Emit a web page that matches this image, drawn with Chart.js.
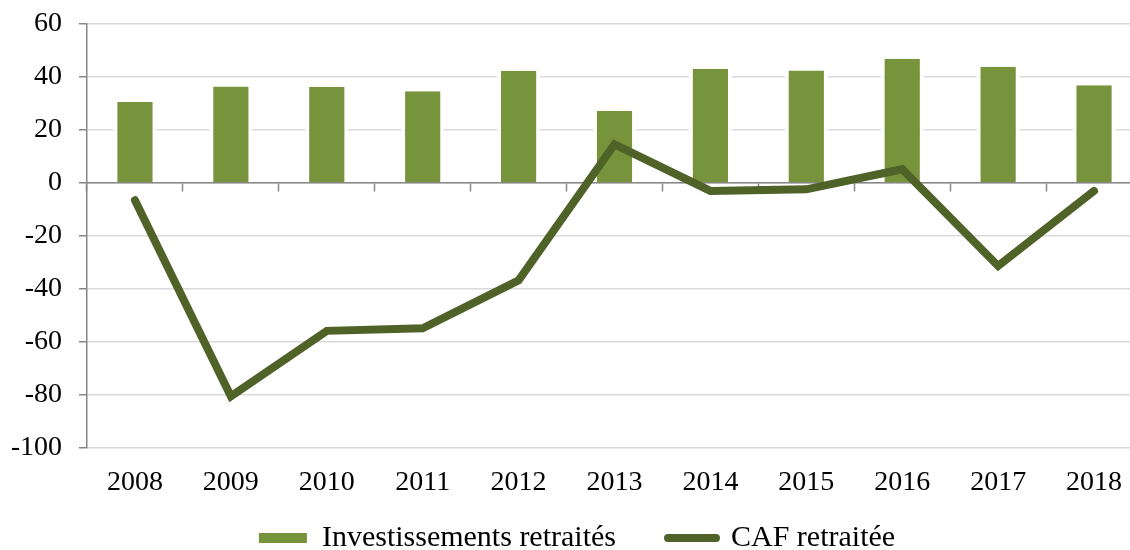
<!DOCTYPE html>
<html>
<head>
<meta charset="utf-8">
<script src="https://cdn.jsdelivr.net/npm/chart.js@4.4.1/dist/chart.umd.min.js"></script>
<style>
    html, body { margin: 0; padding: 0; background: #ffffff; overflow: hidden; }
    #wrap { position: relative; width: 1142px; height: 550px; }
</style>
</head>
<body>
<div id="wrap"><canvas id="myComboChart"></canvas></div>
<script>
// Data
const years = ['2008', '2009', '2010', '2011', '2012', '2013', '2014', '2015', '2016', '2017', '2018'];
const investissements = [30.6, 36.4, 36.2, 34.6, 42.4, 27.2, 43.1, 42.5, 46.9, 43.9, 36.9];
const cafRetraitee = [-6.5, -80.5, -55.8, -54.8, -36.7, 14.6, -3.0, -2.4, 5.2, -31.3, -3.0];
const seriesNames = ['Investissements retraités', 'CAF retraitée'];

document.addEventListener("DOMContentLoaded", function () {
    const ctx = document.getElementById('myComboChart').getContext('2d');
    const fontFamily = '"Liberation Serif", "Times New Roman", serif';
    const fontSize = 28;

    const axisGray = '#868686';
    const gridGray = '#d9d9d9';
    const legendGap = 52;     // space between the two legend entries
    const legendRowTop = 523; // y of the legend row

    // legend takes little room in the layout, then its row is moved to the bottom edge
    const legendPlacePlugin = {
        id: 'legendPlace',
        beforeLayout: function (chart) {
            const legend = chart.legend;
            if (legend && !legend._fitPatched) {
                const origFit = legend.fit;
                legend.fit = function () {
                    origFit.call(this);
                    this.height = 32;
                };
                legend._fitPatched = true;
            }
        },
        afterLayout: function (chart) {
            const legend = chart.legend;
            if (legend) {
                legend.top = legendRowTop - legendGap;
            }
        }
    };

    const data = {
        labels: years,
        datasets: [{
            type: 'bar',
            label: seriesNames[0],
            data: investissements,
            backgroundColor: '#77933c',
            borderColor: '#ffffff',
            borderWidth: { left: 4, right: 4, top: 0, bottom: 0 },
            borderSkipped: false,
            barPercentage: 0.45,
            categoryPercentage: 1.0,
            xAxisID: 'x',
            order: 1
        }, {
            type: 'line',
            label: seriesNames[1],
            data: cafRetraitee,
            borderColor: '#4f6228',
            backgroundColor: '#4f6228',
            borderWidth: 8,
            borderCapStyle: 'round',
            borderJoinStyle: 'miter',
            pointRadius: 0,
            pointHoverRadius: 0,
            tension: 0,
            fill: false,
            xAxisID: 'x',
            order: 0
        }]
    };

    const config = {
        data: data,
        plugins: [legendPlacePlugin],
        options: {
            responsive: true,
            maintainAspectRatio: false,
            animation: false,
            layout: {
                padding: { left: 12, top: 0, right: 0, bottom: 0 }
            },
            plugins: {
                tooltip: { enabled: false },
                legend: {
                    display: true,
                    position: 'bottom',
                    labels: {
                        color: '#000000',
                        font: { family: fontFamily, size: 30 },
                        usePointStyle: true,
                        pointStyleWidth: 48,
                        boxHeight: 10,
                        padding: legendGap,
                        sort: function (a, b) {
                            return a.datasetIndex - b.datasetIndex;
                        },
                        generateLabels: function (chart) {
                            const items = Chart.defaults.plugins.legend.labels.generateLabels(chart);
                            items.forEach(function (item) {
                                if (item.datasetIndex === 0) {
                                    item.pointStyle = 'rect';
                                    item.strokeStyle = item.fillStyle;
                                    item.lineWidth = 0;
                                } else {
                                    item.pointStyle = 'line';
                                    item.lineWidth = 8;
                                    item.lineCap = 'round';
                                }
                            });
                            return items;
                        }
                    }
                }
            },
            scales: {
                x: {
                    type: 'category',
                    offset: true,
                    grid: { display: false, drawTicks: false },
                    border: { display: false },
                    ticks: {
                        color: '#000000',
                        font: { family: fontFamily, size: fontSize },
                        padding: 18,
                        maxRotation: 0
                    },
                    afterFit: function (scale) {
                        scale.height = 70;
                    }
                },
                // zero line with its tick marks between categories
                xzero: {
                    type: 'category',
                    axis: 'x',
                    labels: years,
                    offset: true,
                    position: { y: 0 },
                    grid: {
                        offset: true,
                        drawOnChartArea: false,
                        drawTicks: true,
                        tickLength: 8,
                        tickColor: axisGray,
                        tickWidth: 1.5
                    },
                    border: { display: true, color: axisGray, width: 1.5 },
                    ticks: { display: false }
                },
                y: {
                    min: -100,
                    max: 60,
                    ticks: {
                        stepSize: 20,
                        color: '#000000',
                        font: { family: fontFamily, size: fontSize },
                        padding: 17
                    },
                    grid: {
                        color: gridGray,
                        lineWidth: 1.5,
                        tickLength: 8,
                        tickColor: axisGray,
                        tickWidth: 1.5
                    },
                    border: { display: true, color: axisGray, width: 1.5 },
                    afterFit: function (scale) {
                        scale.width = 75;
                        scale.paddingTop = 24;
                    }
                }
            }
        }
    };

    const myComboChart = new Chart(ctx, config);
});
</script>
</body>
</html>
